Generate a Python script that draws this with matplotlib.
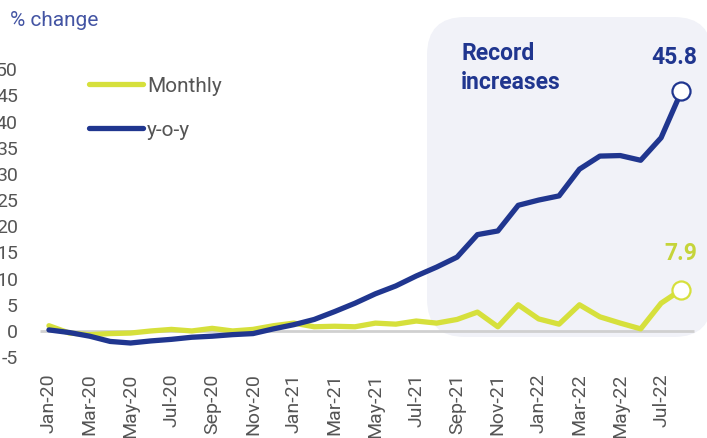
import matplotlib
matplotlib.use('Agg')
import matplotlib.pyplot as plt
from matplotlib.patches import FancyBboxPatch
from matplotlib.transforms import IdentityTransform
import pandas as pd

plt.rcParams['font.family'] = ['Roboto', 'DejaVu Sans']

# Monthly data, Jan-20 to Aug-22
dates = pd.date_range('2020-01-01', periods=32, freq='MS')
labels = [d.strftime('%b-%y') for d in dates]
monthly = [1.0, -0.4, -0.7, -0.5, -0.4, 0.0, 0.3, 0.0, 0.5, 0.0, 0.3, 1.0,
           1.5, 0.8, 0.9, 0.8, 1.5, 1.3, 1.9, 1.5, 2.2, 3.6, 0.8, 5.0,
           2.3, 1.3, 5.0, 2.7, 1.5, 0.4, 5.3, 7.9]
yoy = [0.2, -0.3, -1.0, -2.0, -2.3, -1.9, -1.6, -1.2, -1.0, -0.7, -0.5, 0.4,
       1.2, 2.2, 3.7, 5.3, 7.1, 8.6, 10.5, 12.2, 14.1, 18.4, 19.1, 24.0,
       25.0, 25.8, 30.9, 33.4, 33.5, 32.6, 36.9, 45.8]
yticks = list(range(-5, 55, 5))

yellow = '#D6E03C'
blue = '#20368F'
grey = '#555555'

W, H = 707, 438
fig = plt.figure(figsize=(W / 100, H / 100), dpi=100)
ax = fig.add_axes([22 / W, (H - 365) / H, (W - 22) / W, (365 - 10) / H])

# shaded "record increases" panel (pixel coords)
box = FancyBboxPatch((427, H - 337), 285, 320,
                     boxstyle='round,pad=0,rounding_size=38',
                     transform=IdentityTransform(), facecolor='#F1F2F8',
                     edgecolor='none', zorder=0, clip_on=False)
ax.add_patch(box)

x = list(range(len(labels)))
ax.hlines(0, -0.45, 31.6, color='#D0D0D0', lw=2, zorder=1)
ax.plot(x, monthly, color=yellow, lw=3.8, solid_capstyle='round', label='Monthly', zorder=2)
ax.plot(x, yoy, color=blue, lw=3.8, solid_capstyle='round', label='y-o-y', zorder=3)
ax.plot(x[-1], monthly[-1], 'o', ms=13, mfc='white', mec=yellow, mew=1.6, zorder=4)
ax.plot(x[-1], yoy[-1], 'o', ms=13, mfc='white', mec=blue, mew=1.6, zorder=4)

ax.set_xlim(-1.32, 32.25)
ax.set_ylim(-6.5, 61.3)
ax.patch.set_alpha(0)
for s in ax.spines.values():
    s.set_visible(False)

ax.set_yticks(yticks)
ax.set_yticklabels([str(v) for v in yticks])
ax.set_xticks(x[::2])
ax.set_xticklabels(labels[::2], rotation=90, va='top', ha='center')
ax.tick_params(length=0, labelsize=14, labelcolor=grey)
ax.tick_params(axis='x', pad=6)
ax.tick_params(axis='y', pad=3)

leg = ax.legend(loc='upper left', bbox_to_anchor=(48 / (W - 22), 1 - (58 - 10) / 355),
                frameon=False, fontsize=15, handlelength=2.6, handletextpad=0.2,
                labelspacing=1.2)
for t in leg.get_texts():
    t.set_color(grey)

fig.text(10 / W, 1 - 21 / H, '% change', color='#4354A3', fontsize=15, va='center', ha='left')
ax.text(20.2, 50.2, 'Record\nincreases', color=blue, fontsize=16.5, fontweight='bold',
        va='center', ha='left', linespacing=1.3)
ax.text(x[-1] + 0.76, yoy[-1] + 6.5, f'{yoy[-1]}', color=blue, fontsize=16.5,
        fontweight='bold', ha='right', va='center')
ax.text(x[-1] + 0.76, monthly[-1] + 6.8, f'{monthly[-1]}', color='#C5D43A', fontsize=16.5,
        fontweight='bold', ha='right', va='center')

fig.savefig('out.png', dpi=100)
